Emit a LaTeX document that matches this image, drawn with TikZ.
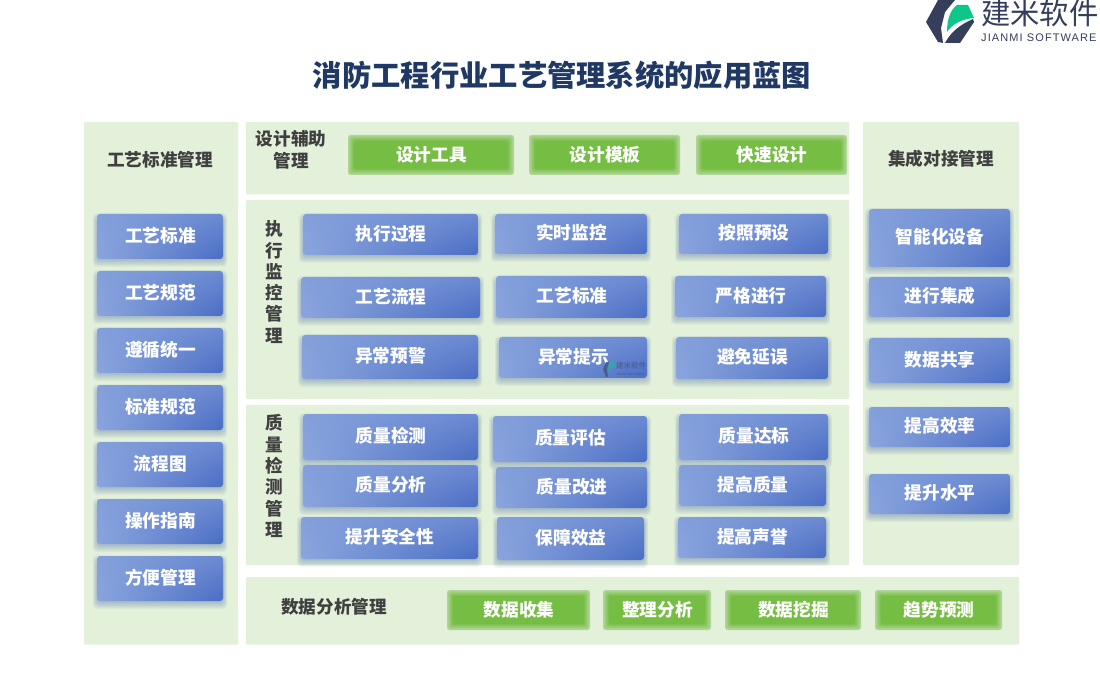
\documentclass[tikz,border=0pt]{standalone}
\usepackage{fontspec}
\usetikzlibrary{shadings}
\setmainfont{Noto Sans CJK SC}
\newfontfamily\latinf{Liberation Sans}
\definecolor{panelc}{HTML}{E4F1DA}
\definecolor{titlec}{HTML}{1F3864}
\definecolor{labelc}{HTML}{404040}
\definecolor{shadowc}{HTML}{3F5FA8}
\definecolor{glight}{HTML}{B4D89C}
\definecolor{gdark}{HTML}{76BD43}
\definecolor{logoc}{HTML}{353F5C}
\definecolor{leafc}{HTML}{0FC68A}
\definecolor{bul}{HTML}{84A0DB}
\definecolor{bll}{HTML}{8BA5DD}
\definecolor{bur}{HTML}{6C8AD2}
\definecolor{blr}{HTML}{4A6DC4}
\tikzset{
  panelbox/.style={fill=panelc,draw=none,inner sep=0pt,rounded corners=1pt},
  bluebox/.style={shade,upper left=bul,lower left=bll,upper right=bur,lower right=blr,rounded corners=3pt,inner sep=0pt},
  labeltext/.style={text=labelc,font=\fontsize{17.6}{22}\selectfont\bfseries,align=center,inner sep=0pt},
  greentext/.style={text=white,font=\fontsize{17.7}{20}\selectfont\bfseries,inner sep=0pt}
}
\newcommand\panelrect[5]{\node[panelbox,minimum width={#4-#2},minimum height={#5-#3}] (#1) at ({(#2+#4)/2},{(#3+#5)/2}) {};}
\newcommand\bluebtn[6]{%
  \foreach \i in {0,...,7}{\fill[shadowc,opacity=.05,rounded corners=4pt] (#2-0.6*\i,#3+6-\i) rectangle (#4+0.6*\i,#5+1+\i);}
  \node[bluebox,minimum width={#4-#2},minimum height={#5-#3}] (#1) at ({(#2+#4)/2},{(#3+#5)/2}) {};
  \node[greentext] (#1t) at ({(#2+#4)/2+0.5},{(#3+#5)/2-1}) {#6};}
\newcommand\greenbtn[6]{%
  \foreach \i in {0,...,14}{\pgfmathtruncatemacro\p{\i*100/14}
    \fill[gdark!\p!glight,rounded corners=2.5pt] (#2+0.45*\i,#3+0.45*\i) rectangle (#4-0.45*\i,#5-0.45*\i);}
  \node[greentext] (#1) at ({(#2+#4)/2+0.5},{(#3+#5)/2}) {#6};}
\begin{document}
\begin{tikzpicture}[x=1pt,y=-1pt]
\useasboundingbox (0,0) rectangle (1100,700);
\fill[white] (0,0) rectangle (1100,700);
% logo
\fill[logoc] (926,22) -- (938,0) -- (955,0) -- (945,12) -- (941,28) -- (943,43) -- (938,42) -- cycle;
\fill[logoc] (945,43) -- (960,43) -- (974,22) -- (973,19) .. controls (962,24) and (952,30) .. (945,43) -- cycle;
\fill[leafc] (947,32) .. controls (947,20) and (950,10) .. (957,5) -- (968,5) -- (974,18) .. controls (963,19) and (953,23) .. (947,32) -- cycle;
\node[inner sep=0pt,anchor=west,text=logoc,font=\fontsize{29.3}{32}\selectfont] (brand) at (981,13) {建米软件};
\node[inner sep=0pt,anchor=west,text=logoc,font=\fontsize{11}{12}\selectfont\latinf] (brandl) at (981,38) {\addfontfeature{LetterSpace=10}JIANMI SOFTWARE};
\node[text=titlec,font=\fontsize{29.3}{32}\selectfont\bfseries,inner sep=0pt] (title) at (562,75.5) {消防工程行业工艺管理系统的应用蓝图};
% panels
\panelrect{pleft}{84}{122}{238}{644.5}
\panelrect{pdesign}{246}{122}{849}{194.5}
\panelrect{pexec}{246}{200}{849}{399}
\panelrect{pqual}{246}{405}{849}{565}
\panelrect{pright}{863}{122}{1019}{565}
\panelrect{pdata}{246}{577}{1019}{644.5}
% labels
\node[labeltext] (l1) at (160,159.5) {工艺标准管理};
\node[labeltext] (l2) at (291,150) {设计辅助\\管理};
\node[labeltext,font=\fontsize{17.6}{21.3}\selectfont\bfseries] (l3) at (274,282) {执\\行\\监\\控\\管\\理};
\node[labeltext,font=\fontsize{17.6}{21.3}\selectfont\bfseries] (l4) at (274,476) {质\\量\\检\\测\\管\\理};
\node[labeltext] (l5) at (941,158.5) {集成对接管理};
\node[labeltext] (l6) at (334,606.5) {数据分析管理};
% left column
\bluebtn{a1}{97}{214}{223}{259}{工艺标准}
\bluebtn{a2}{97}{271}{223}{316}{工艺规范}
\bluebtn{a3}{97}{328}{223}{373}{遵循统一}
\bluebtn{a4}{97}{385}{223}{430}{标准规范}
\bluebtn{a5}{97}{442}{223}{487}{流程图}
\bluebtn{a6}{97}{499}{223}{544}{操作指南}
\bluebtn{a7}{97}{556}{223}{601}{方便管理}
% design
\greenbtn{d1}{348}{135}{514}{175}{设计工具}
\greenbtn{d2}{529}{135}{680}{175}{设计模板}
\greenbtn{d3}{696}{135}{847}{175}{快速设计}
% exec
\bluebtn{e1}{303}{214}{478}{255}{执行过程}
\bluebtn{e2}{495}{214}{647}{254}{实时监控}
\bluebtn{e3}{679}{214}{828}{254}{按照预设}
\bluebtn{e4}{301}{277}{480}{318}{工艺流程}
\bluebtn{e5}{496}{276}{647}{318}{工艺标准}
\bluebtn{e6}{675}{276}{826}{317}{严格进行}
\bluebtn{e7}{302}{335}{478}{379}{异常预警}
\bluebtn{e8}{499}{337}{647}{378}{异常提示}
\bluebtn{e9}{676}{337}{828}{379}{避免延误}
% watermark
\begin{scope}[opacity=.55]
\fill[logoc] (603,369) -- (606,362) -- (609,362) -- (607,369) -- (608,377) -- (606,377) -- cycle;
\fill[leafc] (608,371) .. controls (608,366) and (610,363) .. (611,362) -- (614,362) -- (616,367) .. controls (612,367) and (610,369) .. (608,371) -- cycle;
\node[inner sep=0pt,anchor=west,text=logoc,font=\fontsize{7.5}{8}\selectfont] (wm) at (616,366) {建米软件};
\node[inner sep=0pt,anchor=west,text=logoc,font=\fontsize{3}{4}\selectfont\latinf] (wml) at (616,374) {JIANMI SOFTWARE};
\end{scope}
% quality
\bluebtn{q1}{303}{414}{478}{460}{质量检测}
\bluebtn{q2}{493}{416}{647}{462}{质量评估}
\bluebtn{q3}{679}{414}{828}{460}{质量达标}
\bluebtn{q4}{303}{465}{478}{507}{质量分析}
\bluebtn{q5}{496}{467}{647}{508}{质量改进}
\bluebtn{q6}{679}{465}{826}{506}{提高质量}
\bluebtn{q7}{301}{517}{478}{559}{提升安全性}
\bluebtn{q8}{497}{517}{644}{560}{保障效益}
\bluebtn{q9}{678}{517}{826}{558}{提高声誉}
% right
\bluebtn{r1}{869}{209}{1010}{267}{智能化设备}
\bluebtn{r2}{869}{277}{1010}{317}{进行集成}
\bluebtn{r3}{869}{338}{1010}{383}{数据共享}
\bluebtn{r4}{869}{407}{1010}{447}{提高效率}
\bluebtn{r5}{869}{474}{1010}{514}{提升水平}
% data
\greenbtn{g1}{447}{590}{590}{630}{数据收集}
\greenbtn{g2}{603}{590}{711}{630}{整理分析}
\greenbtn{g3}{725}{590}{861}{630}{数据挖掘}
\greenbtn{g4}{875}{590}{1002}{630}{趋势预测}
\end{tikzpicture}
\end{document}
